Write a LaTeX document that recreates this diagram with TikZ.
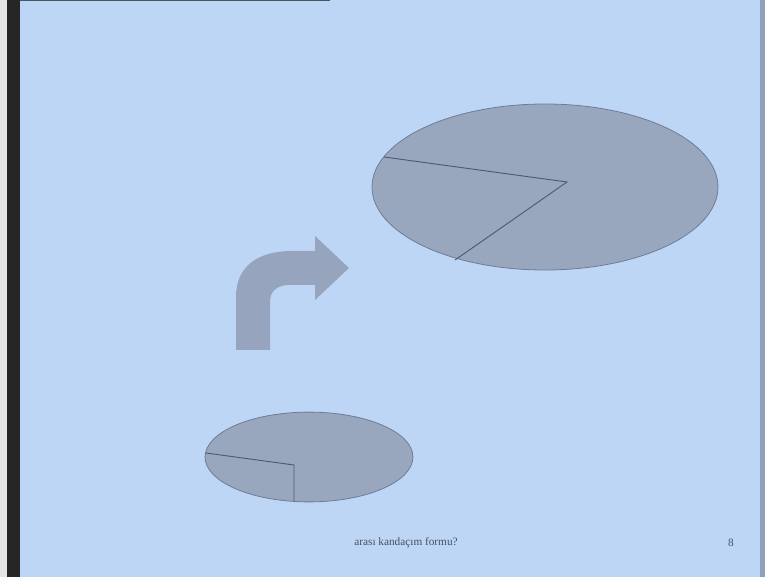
\documentclass[tikz,border=0pt]{standalone}
\usepackage{fontspec}
\setmainfont{Liberation Serif}
\usepackage{tikz}
\usetikzlibrary{shapes.geometric, positioning}

\definecolor{slidebg}{RGB}{190,214,245}
\definecolor{pieface}{RGB}{152,166,190}
\definecolor{pieedge}{RGB}{110,124,150}
\definecolor{pieline}{RGB}{78,90,114}
\definecolor{arrowface}{RGB}{150,164,190}
\definecolor{captext}{RGB}{70,80,100}

\begin{document}
\begin{tikzpicture}[
    x=0.0265cm, y=-0.0265cm,
    pie/.style={ellipse, draw=pieedge, fill=pieface, line width=0.6pt, inner sep=0pt},
    cut/.style={draw=pieline, line width=0.7pt},
    caption/.style={font=\fontsize{8.5}{10}\selectfont, text=captext},
]

% Slide and frame
\fill[slidebg] (0,0) rectangle (765,577);
\fill[black!85] (7,0) rectangle (20,577);
\fill[black!10] (0,0) rectangle (7,577);
\fill[black!60!slidebg] (20,0) rectangle (330,1.5);
\fill[black!25!slidebg] (760,0) rectangle (765,577);
\useasboundingbox (0,0) rectangle (765,577);

% Big pie
\node[pie, minimum width=9.17cm, minimum height=4.40cm] (bigpie) at (545,187) {};
\coordinate (bigc) at (567,182);
\coordinate (bigA) at (384,157);
\coordinate (bigB) at (455,260);
\draw[cut] (bigA) -- (bigc) -- (bigB);

% Small pie
\node[pie, minimum width=5.51cm, minimum height=2.38cm] (smallpie) at (309,457) {};
\coordinate (smallc) at (294,465);
\coordinate (smallA) at (206,453);
\coordinate (smallB) at (294,501);
\draw[cut] (smallA) -- (smallc) -- (smallB);

% Bent arrow
\fill[arrowface] (236,350) -- (236,297)
    .. controls (236,266) and (258,251) .. (292,251)
    -- (315,251) -- (315,236) -- (349,268) -- (315,300) -- (315,285)
    -- (290,285) .. controls (278,285) and (270,290) .. (270,302)
    -- (270,350) -- cycle;

% Footer
\node[caption] (title) at (406,543) {arası kandaçım formu?};
\node[caption] (pagenum) at (731,543) {8};

\end{tikzpicture}
\end{document}
